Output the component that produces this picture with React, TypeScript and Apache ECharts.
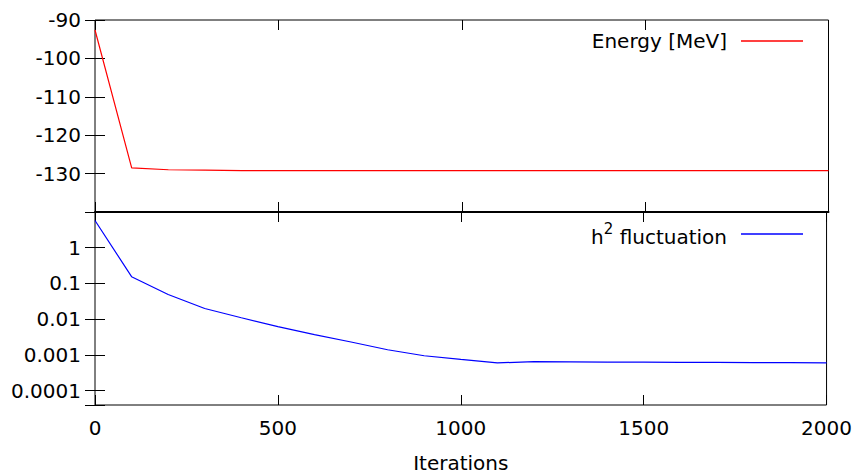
import React, { useEffect, useRef } from "react";
import * as echarts from "echarts";

const iterations = [0, 100, 200, 300, 400, 500, 600, 700, 800, 900, 1000, 1100, 1200, 1300, 1400, 1500, 1600, 1700, 1800, 1900, 2000];
const energy = [-92.6, -128.5, -129.0, -129.1, -129.2, -129.2, -129.2, -129.2, -129.2, -129.2, -129.2, -129.2, -129.2, -129.2, -129.2, -129.2, -129.2, -129.2, -129.2, -129.2, -129.2];
const fluctuation = [5.8, 0.155, 0.049, 0.02, 0.011, 0.0062, 0.0037, 0.0023, 0.0014, 0.00095, 0.00075, 0.0006, 0.00065, 0.00064, 0.00063, 0.00063, 0.00062, 0.00062, 0.00061, 0.00061, 0.0006];
const xTicks = [0, 500, 1000, 1500, 2000];
const energyTicks = [-140, -130, -120, -110, -100, -90];

const FONT = "DejaVu Sans";
const FS = 20;

function fmtLog(v: number): string {
  const l = Math.log10(v);
  const e = Math.round(l);
  if (Math.abs(l - e) > 0.01 || e > 0) return "";
  if (e === 0) return "1";
  return "0." + "0".repeat(-e - 1) + "1";
}

export default function App() {
  const ref = useRef<HTMLDivElement>(null);
  useEffect(() => {
    document.body.style.margin = "0";
    const chart = echarts.init(ref.current!, null, { renderer: "svg" });
    const tick = { show: true, inside: true, length: 10, lineStyle: { color: "#000", width: 1 } };
    const xBase = {
      type: "value" as const,
      min: xTicks[0],
      max: xTicks[xTicks.length - 1],
      interval: xTicks[1] - xTicks[0],
      axisLine: { show: false },
      axisTick: tick,
      splitLine: { show: false },
    };
    const pairsE = iterations.map((x, i) => [x, energy[i]]);
    const pairsF = iterations.map((x, i) => [x, fluctuation[i]]);
    chart.setOption({
      animation: false,
      grid: [
        { left: 95, right: 26.5, top: 20, height: 192, show: true, borderColor: "#000", borderWidth: 1, backgroundColor: "transparent" },
        { left: 95, right: 26.5, top: 212, height: 193.5, show: true, borderColor: "#000", borderWidth: 1, backgroundColor: "transparent" },
      ],
      xAxis: [
        { ...xBase, gridIndex: 0, position: "bottom", axisLabel: { show: false }, axisLine: { show: true, lineStyle: { color: "#000", width: 2 } } },
        { ...xBase, gridIndex: 0, position: "top", axisLabel: { show: false } },
        {
          ...xBase,
          gridIndex: 1,
          position: "bottom",
          axisLabel: { show: true, margin: 13, color: "#000", fontFamily: FONT, fontSize: FS, formatter: (v: number) => String(v) },
          name: "Iterations",
          nameLocation: "middle",
          nameGap: 48,
          nameTextStyle: { color: "#000", fontFamily: FONT, fontSize: FS },
        },
        { ...xBase, gridIndex: 1, position: "top", axisLabel: { show: false } },
      ],
      yAxis: [
        {
          type: "value",
          gridIndex: 0,
          position: "left",
          min: energyTicks[0],
          max: energyTicks[energyTicks.length - 1],
          interval: 10,
          axisLine: { show: false },
          axisTick: tick,
          splitLine: { show: false },
          axisLabel: { margin: 14, color: "#000", fontFamily: FONT, fontSize: FS, formatter: (v: number) => (v === energyTicks[0] ? "" : String(v)) },
        },
        {
          type: "value",
          gridIndex: 0,
          position: "right",
          min: energyTicks[0],
          max: energyTicks[energyTicks.length - 1],
          interval: 10,
          axisLine: { show: false },
          axisTick: tick,
          splitLine: { show: false },
          axisLabel: { show: false },
        },
        {
          type: "log",
          logBase: 10,
          gridIndex: 1,
          position: "left",
          min: Math.pow(10, -4.4),
          max: 10,
          axisLine: { show: false },
          axisTick: tick,
          splitLine: { show: false },
          minorTick: { show: false },
          axisLabel: { margin: 14, color: "#000", fontFamily: FONT, fontSize: FS, formatter: (v: number) => fmtLog(v) },
        },
        {
          type: "log",
          logBase: 10,
          gridIndex: 1,
          position: "right",
          min: Math.pow(10, -4.4),
          max: 10,
          axisLine: { show: false },
          axisTick: tick,
          splitLine: { show: false },
          axisLabel: { show: false },
        },
      ],
      legend: [
        {
          data: ["Energy [MeV]"],
          right: 52,
          top: 31,
          padding: 0,
          align: "right",
          icon: "rect",
          itemWidth: 62,
          itemHeight: 1.5,
          selectedMode: false,
          textStyle: { color: "#000", fontFamily: FONT, fontSize: FS, padding: [0, 9, 0, 0] },
        },
        {
          data: ["h2 fluctuation"],
          right: 52,
          top: 221,
          padding: 0,
          align: "right",
          icon: "rect",
          itemWidth: 62,
          itemHeight: 1.5,
          selectedMode: false,
          formatter: () => "{a|h}{s|2}{a| fluctuation}",
          textStyle: {
            color: "#000",
            fontFamily: FONT,
            fontSize: FS,
            padding: [0, 9, 0, 0],
            rich: {
              a: { fontFamily: FONT, fontSize: FS, color: "#000", lineHeight: 26, verticalAlign: "bottom" },
              s: { fontFamily: FONT, fontSize: 15, color: "#000", lineHeight: 26, verticalAlign: "top" },
            },
          },
        },
      ],
      series: [
        {
          name: "Energy [MeV]",
          type: "line",
          xAxisIndex: 0,
          yAxisIndex: 0,
          data: pairsE,
          showSymbol: false,
          lineStyle: { color: "#ff0000", width: 1.2 },
          itemStyle: { color: "#ff0000" },
        },
        {
          name: "h2 fluctuation",
          type: "line",
          xAxisIndex: 2,
          yAxisIndex: 2,
          data: pairsF,
          showSymbol: false,
          lineStyle: { color: "#0000ff", width: 1.2 },
          itemStyle: { color: "#0000ff" },
        },
      ],
    });
    return () => chart.dispose();
  }, []);
  return <div ref={ref} style={{ position: "absolute", left: 0, top: 0, width: 855, height: 474 }} />;
}
